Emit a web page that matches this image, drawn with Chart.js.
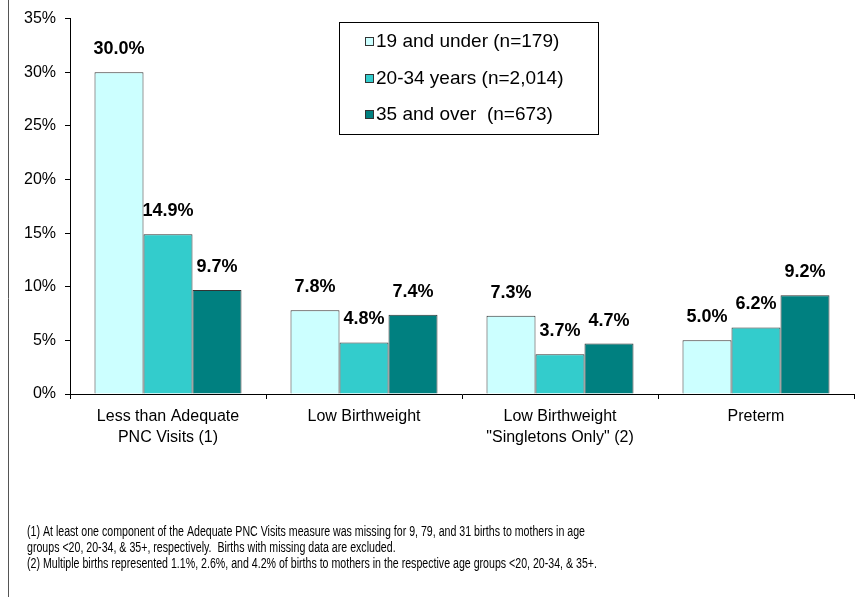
<!DOCTYPE html>
<html>
<head>
<meta charset="utf-8">
<script src="https://cdn.jsdelivr.net/npm/chart.js@4/dist/chart.umd.min.js"></script>
<style>
	html, body { margin: 0; padding: 0; background: #fff; }
	canvas { display: block; }
</style>
</head>
<body>
<canvas id="ageChart" width="861" height="606"></canvas>
<script>
const categories = [
	["Less than Adequate", "PNC Visits (1)"],
	"Low Birthweight",
	["Low Birthweight", "\"Singletons Only\" (2)"],
	"Preterm"
];
const seriesNames = ["19 and under (n=179)", "20-34 years (n=2,014)", "35 and over  (n=673)"];
const under20 = [30.0, 7.8, 7.3, 5.0];
const age20to34 = [14.9, 4.8, 3.7, 6.2];
const age35plus = [9.7, 7.4, 4.7, 9.2];
const yTicks = [0, 5, 10, 15, 20, 25, 30, 35];
const footnotes = [
	"(1) At least one component of the Adequate PNC Visits measure was missing for 9, 79, and 31 births to mothers in age",
	"groups <20, 20-34, & 35+, respectively.  Births with missing data are excluded.",
	"(2) Multiple births represented 1.1%, 2.6%, and 4.2% of births to mothers in the respective age groups <20, 20-34, & 35+."
];

const fills = ["#CCFFFF", "#33CCCC", "#008080"];
const FONT = "'Liberation Sans', Arial, sans-serif";

// value labels above each bar
const barLabels = {
	id: 'barLabels',
	afterDatasetsDraw(chart) {
		const ctx = chart.ctx;
		ctx.save();
		ctx.font = "bold 18px " + FONT;
		ctx.fillStyle = "#000";
		ctx.textAlign = "center";
		ctx.textBaseline = "middle";
		chart.data.datasets.forEach((ds, i) => {
			chart.getDatasetMeta(i).data.forEach((bar, j) => {
				ctx.fillText(ds.data[j].toFixed(1) + "%", bar.x, bar.y - 23);
			});
		});
		ctx.restore();
	}
};

// legend box, frame line and footnotes
const extras = {
	id: 'extras',
	afterDraw(chart) {
		const ctx = chart.ctx;
		ctx.save();
		// left frame line
		ctx.strokeStyle = "#555";
		ctx.lineWidth = 1;
		ctx.beginPath();
		ctx.moveTo(8.5, 0);
		ctx.lineTo(8.5, 597);
		ctx.stroke();

		// legend
		ctx.strokeStyle = "#000";
		ctx.fillStyle = "#fff";
		ctx.fillRect(339, 22, 259, 112);
		ctx.strokeRect(339.5, 22.5, 259, 112);
		ctx.font = "19px " + FONT;
		ctx.textBaseline = "middle";
		ctx.textAlign = "left";
		const rows = [41, 78, 114];
		seriesNames.forEach((name, i) => {
			ctx.fillStyle = fills[i];
			ctx.fillRect(365, rows[i] - 4, 8, 8);
			ctx.strokeStyle = "#333";
			ctx.strokeRect(365.5, rows[i] - 3.5, 8, 8);
			ctx.fillStyle = "#000";
			ctx.fillText(name, 376, rows[i] + 1);
		});

		// footnotes, condensed
		ctx.font = "14px " + FONT;
		ctx.textBaseline = "middle";
		const squeeze = 570 / ctx.measureText(footnotes[2]).width;
		footnotes.forEach((line, i) => {
			ctx.save();
			ctx.translate(27, 532 + i * 16);
			ctx.scale(squeeze, 1);
			ctx.fillStyle = "#000";
			ctx.fillText(line, 0, 0);
			ctx.restore();
		});
		ctx.restore();
	}
};

new Chart(document.getElementById('ageChart'), {
	type: 'bar',
	data: {
		labels: categories,
		datasets: [
			{ label: seriesNames[0], data: under20, backgroundColor: fills[0] },
			{ label: seriesNames[1], data: age20to34, backgroundColor: fills[1] },
			{ label: seriesNames[2], data: age35plus, backgroundColor: fills[2] }
		].map(d => Object.assign(d, { borderColor: "#333", borderWidth: 1, categoryPercentage: 0.75, barPercentage: 1 }))
	},
	options: {
		responsive: false,
		animation: false,
		layout: { padding: { top: 16, right: 7, left: 0, bottom: 0 } },
		plugins: {
			legend: { display: false },
			tooltip: { enabled: false }
		},
		scales: {
			x: {
				afterFit(scale) { scale.height = 212; },
				grid: { display: true, drawOnChartArea: false, offset: true, tickLength: 5, color: "#000" },
				border: { color: "#000", width: 1 },
				ticks: { color: "#000", font: { family: FONT, size: 16, lineHeight: 1.3 }, padding: 7, maxRotation: 0, autoSkip: false }
			},
			y: {
				min: 0,
				max: 35,
				afterFit(scale) { scale.width = 70; },
				afterBuildTicks(scale) { scale.ticks = yTicks.map(v => ({ value: v })); },
				grid: { display: true, drawOnChartArea: false, tickLength: 5, color: "#000" },
				border: { color: "#000", width: 1 },
				ticks: { color: "#000", font: { family: FONT, size: 16 }, padding: 9, callback: v => v + "%" }
			}
		}
	},
	plugins: [barLabels, extras]
});
</script>
</body>
</html>
